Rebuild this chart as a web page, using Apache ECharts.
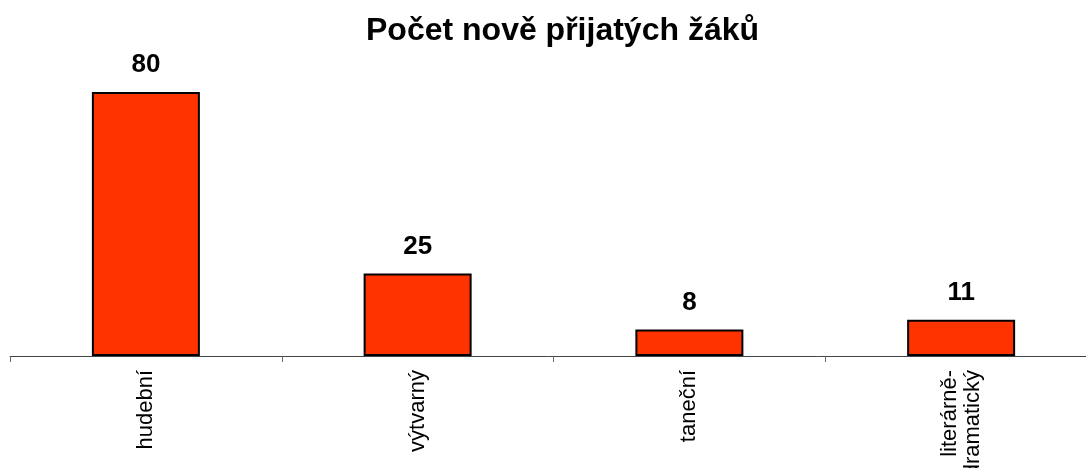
<!DOCTYPE html>
<html>
<head>
<meta charset="utf-8">
<script src="https://cdn.jsdelivr.net/npm/echarts@6/dist/echarts.min.js"></script>
<style>
  html, body { margin: 0; padding: 0; background: #fff; }
  #chart { width: 1086px; height: 468px; }
</style>
</head>
<body>
<div id="chart"></div>
<script>
const categories = ["hudební", "výtvarný", "taneční", "literárně-\ndramatický"];
const values = [80, 25, 8, 11];

const chart = echarts.init(document.getElementById("chart"));
chart.setOption({
  animation: false,
  title: {
    text: "Počet nově přijatých žáků",
    left: 361,
    top: 10,
    textStyle: {
      fontFamily: "Liberation Sans",
      fontSize: 32,
      fontWeight: "bold",
      color: "#000",
    },
  },
  grid: {
    left: 10,
    right: -11,
    top: 92,
    bottom: 112,
    containLabel: false,
    outerBoundsMode: "none",
  },
  xAxis: {
    type: "category",
    data: categories,
    boundaryGap: true,
    axisLine: {
      show: true,
      lineStyle: { color: "#444", width: 1 },
    },
    axisTick: {
      show: true,
      length: 6,
      lineStyle: { color: "#666" },
    },
    axisLabel: {
      rotate: 90,
      margin: 14,
      fontFamily: "Liberation Sans",
      fontSize: 22,
      lineHeight: 23,
      color: "#000",
      interval: 0,
    },
  },
  yAxis: {
    type: "value",
    min: 0,
    max: 80,
    show: false,
    splitLine: { show: false },
  },
  series: [
    {
      type: "bar",
      data: values,
      barWidth: 108,
      itemStyle: {
        color: "#FF3300",
        borderColor: "#000",
        borderWidth: 2,
      },
      label: {
        show: true,
        position: "top",
        distance: 14,
        fontFamily: "Liberation Sans",
        fontSize: 26,
        fontWeight: "bold",
        color: "#000",
      },
    },
  ],
});
</script>
</body>
</html>
